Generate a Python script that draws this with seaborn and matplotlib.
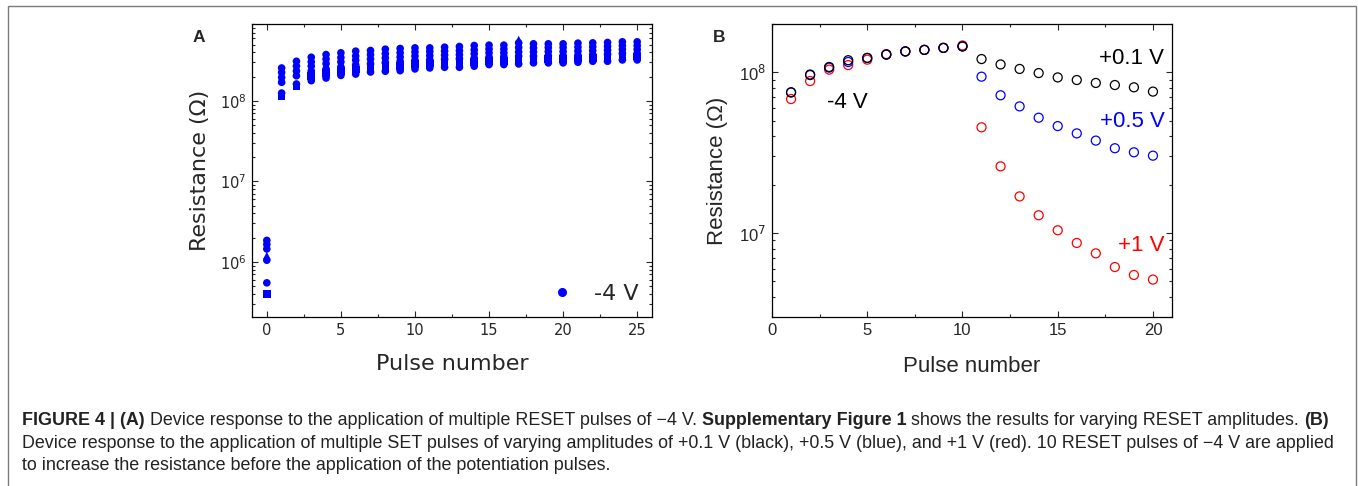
"""
Figure 4 recreation: (A) resistance vs RESET pulse number for several devices,
(B) potentiation with SET pulses of different amplitudes after 10 RESET pulses.
"""

import math

import matplotlib
matplotlib.use("Agg")
import matplotlib.pyplot as plt
import matplotlib.ticker as mticker
from matplotlib.lines import Line2D
from matplotlib.patches import Rectangle
import pandas as pd
import seaborn as sns

W, H = 1358, 486

# --- Panel A data: resistance in MOhm, pulse 0..25, one list per device ---
pulses_a = list(range(26))
dev_a = [1.85, 256, 310, 348, 376, 395, 414, 422, 438, 447, 455, 455, 464, 473, 487,
         492, 492, 525, 511, 511, 511, 521, 525, 531, 541, 541]
dev_b = [1.65, 225, 270, 305, 330, 345, 360, 375, 385, 395, 405, 410, 415, 420, 430,
         440, 440, 460, 455, 460, 460, 465, 470, 475, 485, 485]
dev_c = [1.45, 195, 235, 270, 290, 305, 320, 330, 340, 350, 360, 365, 370, 375, 385,
         395, 395, 405, 405, 410, 410, 415, 420, 425, 435, 435]
dev_d = [1.20, 180, 220, 250, 270, 285, 300, 310, 320, 330, 340, 345, 350, 355, 362,
         372, 375, 577, 382, 388, 388, 392, 398, 402, 412, 412]
dev_e = [1.05, 170, 205, 235, 250, 265, 280, 290, 300, 310, 320, 325, 330, 335, 340,
         350, 355, 360, 360, 365, 365, 370, 375, 380, 390, 390]
dev_f = [0.40, 113, 151, 205, 220, 235, 245, 260, 265, 270, 285, 290, 295, 295, 305,
         315, 315, 320, 325, 330, 330, 335, 340, 345, 355, 355]
dev_g = [0.55, 125, 162, 178, 192, 207, 215, 228, 233, 237, 249, 256, 261, 261, 269,
         282, 282, 287, 296, 296, 296, 301, 310, 310, 322, 322]
devices_a = {"a": dev_a, "b": dev_b, "c": dev_c, "d": dev_d,
             "e": dev_e, "f": dev_f, "g": dev_g}
markers_a = {"a": "o", "b": "o", "c": "o", "d": "^", "e": "o", "f": "s", "g": "o"}

# --- Panel B data: resistance in MOhm, pulse 1..20 ---
pulses_b = list(range(1, 21))
r_01v = [75.1, 96.2, 108, 119, 123, 129, 135, 138, 142, 145,
         121, 112, 105, 99.0, 93.0, 89.6, 85.9, 83.4, 80.7, 75.9]
r_05v = [75.0, 97.0, 107, 116, 123, 129, 135, 138, 142, 145,
         94.0, 72.0, 61.4, 52.2, 46.3, 41.7, 37.6, 33.7, 31.8, 30.3]
r_1v = [68.2, 88.3, 104, 111, 120, 130, 135, 138, 142, 147,
        45.5, 26.0, 16.9, 12.9, 10.4, 8.67, 7.47, 6.14, 5.48, 5.13]

CAPTION = [
    [("FIGURE 4 | (A)", True),
     ("Device response to the application of multiple RESET pulses of \u22124 V.", False),
     ("Supplementary Figure 1", True),
     ("shows the results for varying RESET amplitudes.", False),
     ("(B)", True)],
    [("Device response to the application of multiple SET pulses of varying amplitudes "
      "of +0.1 V (black), +0.5 V (blue), and +1 V (red). 10 RESET pulses of \u22124 V are applied",
      False)],
    [("to increase the resistance before the application of the potentiation pulses.", False)],
]

sns.set_style("ticks")
plt.rcParams["font.family"] = ["DejaVu Sans"]
plt.rcParams["xtick.direction"] = "in"
plt.rcParams["ytick.direction"] = "in"

fig = plt.figure(figsize=(W / 100, H / 100), dpi=100)


def px_axes(left, top, right, bottom):
    return fig.add_axes([left / W, 1 - bottom / H, (right - left) / W, (bottom - top) / H])


def style_log_axes(ax, fam, size):
    ax.set_yscale("log")
    ax.yaxis.set_major_locator(mticker.LogLocator(base=10))
    ax.yaxis.set_minor_locator(mticker.LogLocator(base=10, subs=range(2, 10)))
    ax.yaxis.set_minor_formatter(mticker.NullFormatter())
    ax.xaxis.set_major_locator(mticker.MultipleLocator(5))
    ax.xaxis.set_minor_locator(mticker.MultipleLocator(2.5))
    ax.tick_params(which="both", top=True, right=True, direction="in", width=0.8)
    ax.tick_params(which="major", length=4, labelsize=size, pad=4)
    ax.tick_params(which="minor", length=2)
    for lab in ax.get_xticklabels() + ax.get_yticklabels():
        lab.set_family(fam)
    for sp in ax.spines.values():
        sp.set_linewidth(0.9)
        sp.set_color("black")


# --- Panel A ---
ax_a = px_axes(252, 24, 652, 317)
rows = []
for name, vals in devices_a.items():
    for p, v in zip(pulses_a, vals):
        rows.append({"pulse": p, "R": v * 1e6, "device": name})
df_a = pd.DataFrame(rows)
sns.scatterplot(data=df_a, x="pulse", y="R", style="device", markers=markers_a,
                color="#0000ff", s=30, linewidth=0, legend=False, ax=ax_a, zorder=3)
style_log_axes(ax_a, "DejaVu Sans", 10.5)
ax_a.set_xlim(-1, 26)
ax_a.set_ylim(2.07e5, 9e8)
ax_a.set_xlabel("Pulse number", fontsize=16)
ax_a.set_ylabel("Resistance (\u03a9)", fontsize=16)
ax_a.xaxis.set_label_coords(0.5, -0.125)
ax_a.yaxis.set_label_coords(-0.105, 0.5)
handle = Line2D([], [], marker="o", ls="", color="#0000ff", markersize=5.5)
ax_a.legend([handle], ["-4 V"], loc="lower right", frameon=False, fontsize=16,
            handletextpad=0.7, borderaxespad=0.2, handlelength=1.5)

# --- Panel B ---
ax_b = px_axes(772, 24, 1172, 317)
series_b = [(r_1v, "#ff0000"), (r_05v, "#0000ff"), (r_01v, "#000000")]
for vals, col in series_b:
    sns.scatterplot(x=pulses_b, y=[v * 1e6 for v in vals], marker="o", s=42,
                    facecolor="none", edgecolor=col, linewidth=0.9, ax=ax_b, zorder=3)
style_log_axes(ax_b, "Liberation Sans", 12)
ax_b.yaxis.set_major_formatter(
    mticker.FuncFormatter(lambda v, _: "10$^{%d}$" % round(math.log10(v))))
for lab in ax_b.get_yticklabels():
    lab.set_family("Liberation Sans")
ax_b.set_xlim(0, 21)
ax_b.set_ylim(3e6, 2e8)
ax_b.set_xlabel("Pulse number", fontsize=16, family="Liberation Sans")
ax_b.set_ylabel("Resistance (\u03a9)", fontsize=16, family="Liberation Sans")
ax_b.xaxis.set_label_coords(0.5, -0.133)
ax_b.yaxis.set_label_coords(-0.11, 0.5)
txt = dict(fontsize=16, family="Liberation Sans", va="center")
ax_b.text(2.9, 6.5e7, "-4 V", ha="left", color="black", **txt)
ax_b.text(20.6, 1.22e8, "+0.1 V", ha="right", color="black", **txt)
ax_b.text(20.6, 4.93e7, "+0.5 V", ha="right", color="#0000ff", **txt)
ax_b.text(20.6, 8.34e6, "+1 V", ha="right", color="#ff0000", **txt)

# --- Panel letters ---
fig.text(193 / W, 1 - 42 / H, "A", fontsize=12.5, fontweight="bold",
         family="Liberation Sans", va="baseline")
fig.text(713 / W, 1 - 42 / H, "B", fontsize=12.5, fontweight="bold",
         family="Liberation Sans", va="baseline")

# --- Outer frame ---
fig.patches.append(Rectangle((8 / W, -0.2), 1348 / W, 1.2 - 6 / H, transform=fig.transFigure,
                             fill=False, edgecolor="#7a7a7a", linewidth=1.0))

# --- Caption with mixed bold / regular runs ---
CAP_FONT = ["Liberation Sans Narrow", "Liberation Sans", "DejaVu Sans"]
renderer = fig.canvas.get_renderer()


def text_width(s, weight, size):
    t = fig.text(0, 0, s, fontsize=size, family=CAP_FONT, fontweight=weight)
    w = t.get_window_extent(renderer).width
    t.remove()
    return w


def line_width(line, size):
    sp = text_width("x x", "normal", size) - text_width("xx", "normal", size)
    total = sp * (len(line) - 1)
    for s, bold in line:
        total += text_width(s, "bold" if bold else "normal", size)
    return total


# caption line 1 runs from x=22 to x=1339 in the source figure
cap_size = 10.5 * 1317 / line_width(CAPTION[0], 10.5)
space_w = text_width("x x", "normal", cap_size) - text_width("xx", "normal", cap_size)
baselines = [425, 447.5, 470]
for line, yb in zip(CAPTION, baselines):
    x = 22
    for i, (s, bold) in enumerate(line):
        if i > 0:
            x += space_w
        t = fig.text(x / W, 1 - yb / H, s, fontsize=cap_size, family=CAP_FONT,
                     fontweight="bold" if bold else "normal",
                     va="baseline", ha="left", color="#222222")
        x += t.get_window_extent(renderer).width

fig.savefig("out.png", dpi=100)
